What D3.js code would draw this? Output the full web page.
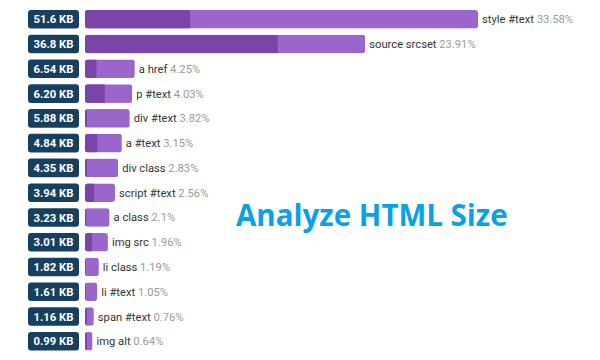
<!DOCTYPE html>
<html><head><meta charset="utf-8">
<script src="https://cdn.jsdelivr.net/npm/d3@7"></script>
<style>
html,body{margin:0;padding:0;background:#fff;}
svg{display:block;}
</style></head>
<body>
<svg id="chart" width="600" height="360"></svg>
<script>
const names = ["style #text","source srcset","a href","p #text","div #text","a #text","div class","script #text","a class","img src","li class","li #text","span #text","img alt"];
const sizesKB = [51.6,36.8,6.54,6.20,5.88,4.84,4.35,3.94,3.23,3.01,1.82,1.61,1.16,0.99];
const sizeLabels = ["51.6 KB","36.8 KB","6.54 KB","6.20 KB","5.88 KB","4.84 KB","4.35 KB","3.94 KB","3.23 KB","3.01 KB","1.82 KB","1.61 KB","1.16 KB","0.99 KB"];
const darkKB = [13.8,25.3,1.5,2.6,0.25,1.6,0.25,1.2,0.15,0.9,0.1,0.1,0.25,0.25];
const percents = ["33.58%","23.91%","4.25%","4.03%","3.82%","3.15%","2.83%","2.56%","2.1%","1.96%","1.19%","1.05%","0.76%","0.64%"];
const title = "Analyze HTML Size";

const svg = d3.select("#chart");
const x = d3.scaleLinear().domain([0, 51.6]).range([85, 478]);
const y = d3.scaleBand().domain(names).range([3.8, 356.8]).padding(0.25);
const bw = y.bandwidth();

const rows = svg.selectAll("g.row").data(names).join("g").attr("class","row")
  .attr("transform", d => `translate(0,${y(d)})`);

rows.append("rect").attr("x",28).attr("y",0).attr("width",51).attr("height",bw)
  .attr("rx",3).attr("fill","#173f5f");
rows.append("text").attr("x",53.5).attr("y",bw/2).attr("dy","0.36em")
  .attr("text-anchor","middle").attr("fill","#fff")
  .attr("font-family","Roboto").attr("font-weight","bold").attr("font-size",11.3)
  .text((d,i)=>sizeLabels[i]);

const defs = svg.append("defs");
names.forEach((d,i)=>{
  defs.append("clipPath").attr("id","clip"+i).append("rect")
    .attr("x",x(0)).attr("y",0).attr("width",x(sizesKB[i])-x(0)).attr("height",bw).attr("rx",3);
});
rows.append("rect").attr("x",x(0)).attr("y",0)
  .attr("width",(d,i)=>x(sizesKB[i])-x(0)).attr("height",bw)
  .attr("fill","#9a66cc").attr("clip-path",(d,i)=>`url(#clip${i})`);
rows.append("rect").attr("x",x(0)).attr("y",0)
  .attr("width",(d,i)=>x(darkKB[i])-x(0)).attr("height",bw)
  .attr("fill","#7a44a8").attr("clip-path",(d,i)=>`url(#clip${i})`);

const t = rows.append("text").attr("x",(d,i)=>x(sizesKB[i])+4).attr("y",bw/2).attr("dy","0.36em")
  .attr("font-family","Roboto").attr("font-size",11.2);
t.append("tspan").attr("fill","#333").text(d=>d);
t.append("tspan").attr("fill","#9a9a9a").text((d,i)=>" "+percents[i]);

svg.append("text").attr("x",236).attr("y",226)
  .attr("font-family","'Open Sans'").attr("font-weight","bold").attr("font-size",29.5)
  .attr("fill","#0aa1e6").text(title);
</script>
</body></html>
